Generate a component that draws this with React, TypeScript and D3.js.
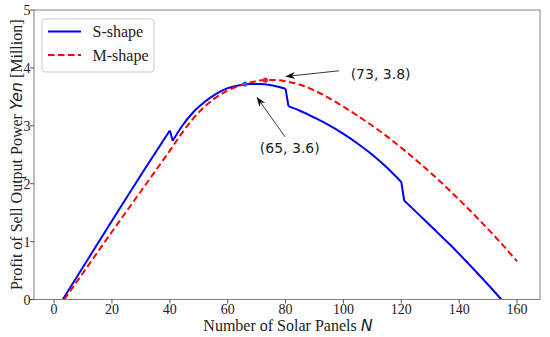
import React from 'react';
import * as d3 from 'd3';

// S-shape profit curve (N, million yen)
const sShapeN = [3, 10, 20, 30, 40, 41, 44, 48, 52, 56, 60, 64, 67, 71, 75, 80, 81, 85, 90, 95, 100, 105, 110, 115, 120, 121, 126, 131, 137, 143, 149, 154.6];
const sShapeY = [0, 0.56, 1.36, 2.15, 2.92, 2.74, 2.98, 3.23, 3.41, 3.55, 3.65, 3.7, 3.72, 3.72, 3.7, 3.64, 3.34, 3.26, 3.14, 3.01, 2.86, 2.69, 2.5, 2.28, 2.03, 1.71, 1.47, 1.23, 0.94, 0.63, 0.31, 0];
// the S-shape curve drops where a new string of panels starts
const sBreaks = [40, 80, 120];

// M-shape profit curve
const mShapeN = [3.5, 10, 20, 30, 35, 40, 44, 48, 52, 56, 60, 64, 68, 73, 77, 81, 85, 90, 95, 100, 105, 110, 116, 121, 126, 131, 137, 142, 148, 154, 160];
const mShapeY = [0, 0.46, 1.17, 1.87, 2.22, 2.57, 2.86, 3.12, 3.33, 3.49, 3.61, 3.69, 3.75, 3.79, 3.79, 3.76, 3.71, 3.61, 3.48, 3.33, 3.17, 3.0, 2.78, 2.58, 2.37, 2.15, 1.87, 1.625, 1.32, 1.0, 0.66];

const xTicks = [0, 20, 40, 60, 80, 100, 120, 140, 160];
const yTicks = [0, 1, 2, 3, 4, 5];

const sPeak = [66, 3.72];
const mPeak = [73, 3.79];

// annotations: text anchor, arrow tail, arrow tip (data coords)
const annotations = [
  { label: '(73, 3.8)', text: [102.5, 3.9], tail: [98.5, 3.95], tip: [79.8, 3.85] },
  { label: '(65, 3.6)', text: [71.1, 2.62], tail: [79.8, 2.81], tip: [70.0, 3.5] },
];

const width = 550;
const height = 337;
const margin = { top: 10, right: 10, bottom: 37.5, left: 34 };

const serif = '"Liberation Serif", "Times New Roman", serif';
const sans = '"DejaVu Sans", sans-serif';

function arrowHead(tail: number[], tip: number[]) {
  const ang = Math.atan2(tip[1] - tail[1], tip[0] - tail[0]);
  const len = 10;
  const half = 3.6;
  const back = 7;
  const ux = Math.cos(ang);
  const uy = Math.sin(ang);
  const px = -uy;
  const py = ux;
  const p1 = [tip[0] - ux * len + px * half, tip[1] - uy * len + py * half];
  const p2 = [tip[0] - ux * back, tip[1] - uy * back];
  const p3 = [tip[0] - ux * len - px * half, tip[1] - uy * len - py * half];
  return `M${tip[0]},${tip[1]}L${p1[0]},${p1[1]}L${p2[0]},${p2[1]}L${p3[0]},${p3[1]}Z`;
}

const App = () => {
  const x = d3.scaleLinear().domain([-6.95, 167.95]).range([margin.left, width - margin.right]);
  const y = d3.scaleLinear().domain([0, 5]).range([height - margin.bottom, margin.top]);

  const line = d3
    .line<number[]>()
    .x((d) => x(d[0]))
    .y((d) => y(d[1]))
    .curve(d3.curveMonotoneX);

  const sData = sShapeN.map((n, i) => [n, sShapeY[i]]);
  const mData = mShapeN.map((n, i) => [n, mShapeY[i]]);

  // split S-shape into smooth pieces and straight drops
  const sPieces: number[][][] = [];
  let cur: number[][] = [];
  sData.forEach((p, i) => {
    cur.push(p);
    const next = sData[i + 1];
    if (next && sBreaks.includes(p[0])) {
      sPieces.push(cur);
      sPieces.push([p, next]);
      cur = [];
    }
  });
  if (cur.length) sPieces.push(cur);
  const sPath = sPieces.map((seg) => line(seg) || '').join('');

  const x0 = margin.left;
  const x1 = width - margin.right;
  const y0 = height - margin.bottom;
  const y1 = margin.top;

  return (
    <svg width={width} height={height} style={{ position: 'absolute', left: 0, top: 0, background: '#fff' }}>
      <defs>
        <clipPath id="plot-clip">
          <rect x={x0} y={y1} width={x1 - x0} height={y0 - y1} />
        </clipPath>
      </defs>

      {/* curves */}
      <g clipPath="url(#plot-clip)">
        <path d={sPath} fill="none" stroke="#0000ff" strokeWidth={2} strokeLinejoin="round" />
        <path d={line(mData) || ''} fill="none" stroke="#ff0000" strokeWidth={2} strokeDasharray="6.5,3.5" />
        <circle cx={x(sPeak[0])} cy={y(sPeak[1])} r={2.6} fill="#3b5ee6" />
        <circle cx={x(mPeak[0])} cy={y(mPeak[1])} r={2.6} fill="#e0203c" />
      </g>

      {/* frame */}
      <rect x={x0} y={y1} width={x1 - x0} height={y0 - y1} fill="none" stroke="#808080" strokeWidth={1} />

      {/* x ticks */}
      {xTicks.map((t) => (
        <g key={'x' + t}>
          <line x1={x(t)} x2={x(t)} y1={y0} y2={y0 + 4} stroke="#555" strokeWidth={1} />
          <text x={x(t)} y={y0 + 14.5} textAnchor="middle" fontFamily={serif} fontSize={14} fill="#222">
            {t}
          </text>
        </g>
      ))}

      {/* y ticks */}
      {yTicks.map((t) => (
        <g key={'y' + t}>
          <line x1={x0 - 4} x2={x0} y1={y(t)} y2={y(t)} stroke="#555" strokeWidth={1} />
          <text x={x0 - 3.5} y={y(t) + 5} textAnchor="end" fontFamily={serif} fontSize={14} fill="#222">
            {t}
          </text>
        </g>
      ))}

      {/* axis labels */}
      <text x={288} y={331} textAnchor="middle" fontFamily={serif} fontSize={16} fill="#222">
        Number of Solar Panels{' '}
        <tspan fontFamily={sans} fontStyle="italic">N</tspan>
      </text>
      <text
        transform={`translate(21.5, ${(y0 + y1) / 2}) rotate(-90)`}
        textAnchor="middle"
        fontFamily={serif}
        fontSize={16}
        fill="#222"
      >
        Profit of Sell Output Power{' '}
        <tspan fontFamily={sans} fontStyle="italic">Yen</tspan> [Million]
      </text>

      {/* annotations */}
      {annotations.map((a) => {
        const tail = [x(a.tail[0]), y(a.tail[1])];
        const tip = [x(a.tip[0]), y(a.tip[1])];
        const ang = Math.atan2(tip[1] - tail[1], tip[0] - tail[0]);
        const lineEnd = [tip[0] - Math.cos(ang) * 7, tip[1] - Math.sin(ang) * 7];
        return (
          <g key={a.label}>
            <line x1={tail[0]} y1={tail[1]} x2={lineEnd[0]} y2={lineEnd[1]} stroke="#222" strokeWidth={0.9} />
            <path d={arrowHead(tail, tip)} fill="#111" />
            <text x={x(a.text[0])} y={y(a.text[1]) + 5} fontFamily={sans} fontSize={14} fill="#222">
              {a.label}
            </text>
          </g>
        );
      })}

      {/* legend */}
      <g>
        <rect x={42} y={19} width={112} height={53} rx={3} fill="#fff" fillOpacity={0.85} stroke="#cccccc" strokeWidth={1} />
        <line x1={48} x2={81} y1={31.5} y2={31.5} stroke="#0000ff" strokeWidth={2} />
        <text x={92.5} y={37} fontFamily={serif} fontSize={16} fill="#222">
          S-shape
        </text>
        <line x1={48} x2={81} y1={55} y2={55} stroke="#ff0000" strokeWidth={2} strokeDasharray="6.5,3.5" />
        <text x={92.5} y={60.5} fontFamily={serif} fontSize={16} fill="#222">
          M-shape
        </text>
      </g>
    </svg>
  );
};

export default App;
